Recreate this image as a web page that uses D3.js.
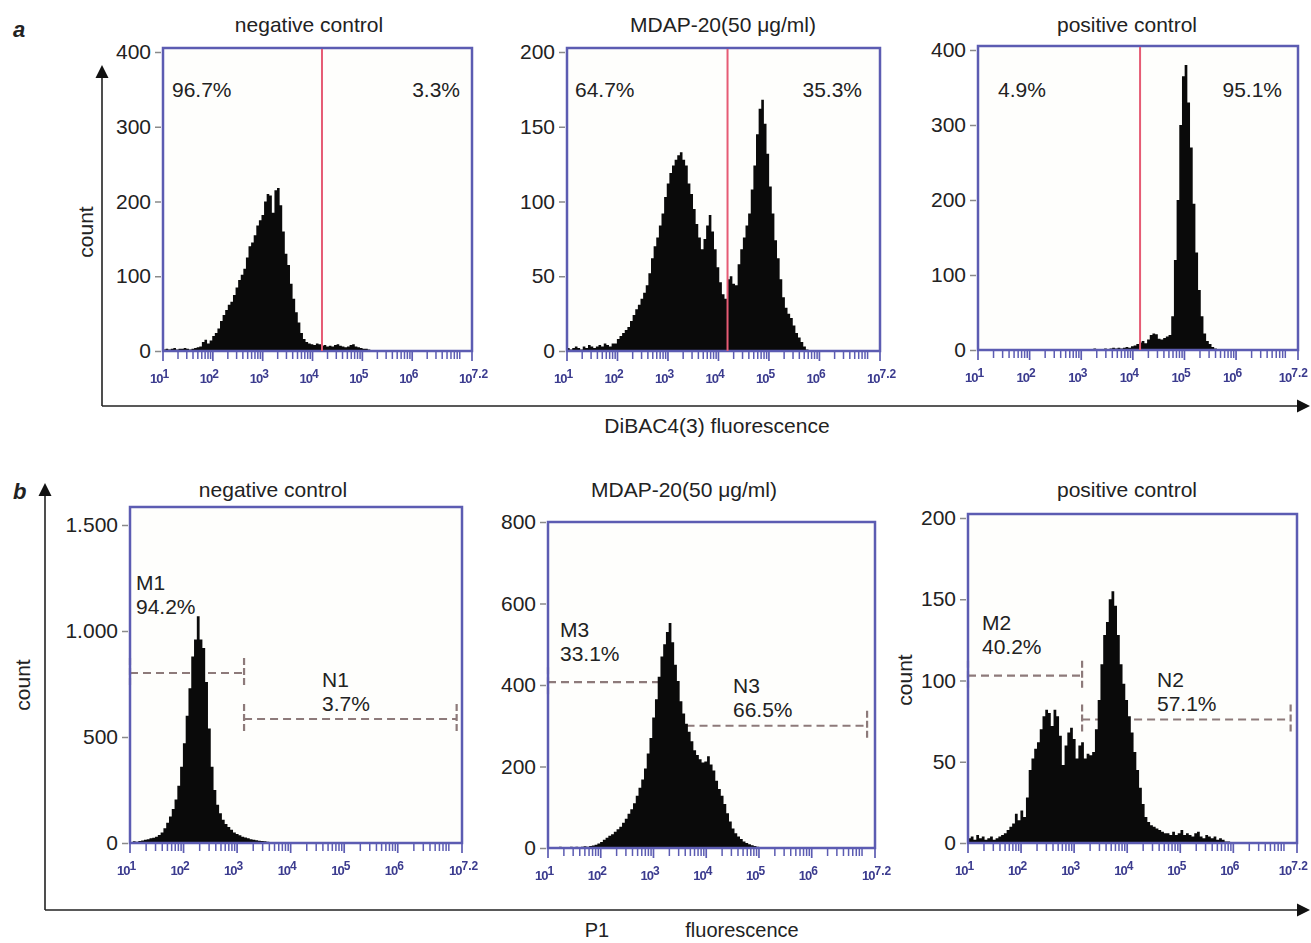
<!DOCTYPE html>
<html>
<head>
<meta charset="utf-8">
<script src="https://cdn.jsdelivr.net/npm/d3@7"></script>
<style>
  body { margin: 0; background: #fff; }
  svg { display: block; }
  text { font-family: "Liberation Sans", Arial, Helvetica, sans-serif; fill: #222; }
</style>
</head>
<body>
<svg id="fig" width="1311" height="943"></svg>
<script>
// ---------- data ----------
// histogram channel width, in decades of fluorescence
const BIN = 0.052;
const decadeTicks = [1, 2, 3, 4, 5, 6, 7.2];
const decadeLabels = ["1", "2", "3", "4", "5", "6", "7.2"];

const titles = ["negative control", "MDAP-20(50 μg/ml)", "positive control"];

// (a) DiBAC4(3) fluorescence histograms
const histStartA = [1.0, 1.0, 3.08];
const negACounts = [2,3,2,3,4,2,3,3,4,3,2,3,4,5,
  6,12,15,10,14,20,24,30,40,48,55,62,66,75,85,95,102,110,125,140,145,155,168,175,182,200,
  210,208,185,215,218,195,160,130,115,90,70,52,38,24,16,12,10,9,8,10,9,7,8,6,7,6,8,9,7,6,
  5,6,8,9,6,5,4,3,3,2];
const midACounts = [2,1,2,3,2,1,3,2,4,3,2,3,4,3,5,4,3,5,
  5,8,10,12,14,16,20,24,28,31,35,39,44,52,62,70,76,84,92,103,112,119,124,128,131,133,128,
  124,112,105,95,85,76,68,75,84,91,80,68,56,46,38,35,48,50,45,44,58,68,76,84,92,108,124,
  145,162,168,152,132,110,92,74,62,48,36,29,25,22,17,12,9,6,3,1];
const posACounts = [1,0,1,2,1,0,1,2,1,2,3,2,3,2,3,
  4,3,5,6,8,10,12,9,14,20,22,21,15,14,16,18,20,45,120,200,300,365,380,330,270,195,130,
  80,45,22,12,8,4,2,1];
const yMaxA = [400, 200, 400];
const yTicksA = [[0,100,200,300,400],[0,50,100,150,200],[0,100,200,300,400]];
const gateA = [4.19, 4.18, 4.14];
const pctLeftA = ["96.7%", "64.7%", "4.9%"];
const pctRightA = ["3.3%", "35.3%", "95.1%"];

// (b) PI fluorescence histograms
const histStartB = [1.0, 1.0, 1.0];
const negBCounts = [5,8,6,10,12,15,18,22,25,30,38,50,70,95,125,160,205,270,360,470,600,730,
  880,960,1070,960,920,760,540,360,250,180,140,110,90,75,62,50,42,36,30,26,22,18,15,13,11,
  10,8,6,4,3,2,2,1];
const midBCounts = [1,2,1,2,3,2,1,2,3,2,3,2,3,4,3,5,
  6,8,11,15,20,25,30,34,40,46,52,62,72,84,95,110,128,148,168,195,232,270,320,365,420,470,
  500,530,552,505,450,410,360,330,305,285,262,240,228,218,210,212,225,205,190,165,145,128,
  108,85,65,48,36,28,22,16,12,9,7,5,3,2,1];
const posBCounts = [3,4,2,5,3,4,2,3,4,2,3,4,5,6,8,10,12,18,14,20,16,28,45,52,58,62,70,78,82,
  80,72,82,78,66,48,60,68,71,64,52,60,62,52,55,54,56,70,88,110,128,136,150,155,146,128,110,
  98,88,78,68,56,45,34,24,16,13,11,10,9,8,7,6,6,5,7,5,6,8,5,6,5,4,6,7,4,3,5,4,3,4,2,3,2,1,1];
const yMaxB = [1500, 800, 200];
const yTicksB = [[0,500,1000,1500],[0,200,400,600,800],[0,50,100,150,200]];
const gateNamesB = [["M1","N1"], ["M3","N3"], ["M2","N2"]];
const gatePctB = [["94.2%","3.7%"], ["33.1%","66.5%"], ["40.2%","57.1%"]];
const gateSplitB = [3.13, 3.38, 3.15];
const gateEndB = [7.1, 7.05, 7.08];
const gateLevelM = [802, 407, 103];
const gateLevelN = [585, 300, 76];

// ---------- layout ----------
const W = 1311;
const frameA = [
  {x0:163, x1:472, top:48, zero:351, yTopPx:52, tx:309, lx:172, rx:460},
  {x0:567, x1:880, top:48, zero:351, yTopPx:52, tx:723, lx:575, rx:862},
  {x0:978, x1:1298, top:46, zero:350, yTopPx:50, tx:1127, lx:998, rx:1282}
];
const frameB = [
  {x0:130, x1:462, top:507, zero:843, yTopPx:525, tx:273, m:[136,590], n:[322,687]},
  {x0:548, x1:875, top:522, zero:848, yTopPx:522, tx:684, m:[560,637], n:[733,693]},
  {x0:968, x1:1297, top:514, zero:843, yTopPx:518, tx:1127, m:[982,630], n:[1157,687]}
];

const FRAME = "#5c5cb2";
const GATE = "#8d7a7a";
const RED = "#e65b74";

const svg = d3.select("#fig");
const defs = svg.append("defs");
defs.append("filter").attr("id", "soft")
  .append("feGaussianBlur").attr("stdDeviation", 0.7);

const fmt = d3.formatLocale({decimal: ",", thousands: ".", grouping: [3], currency: ["", ""]}).format(",d");

function drawPanel(f, counts, start, yMax, yTicks, title, titleY) {
  const g = svg.append("g");
  const x = d3.scaleLinear().domain([1, 7.2]).range([f.x0, f.x1]);
  const y = d3.scaleLinear().domain([0, yMax]).range([f.zero, f.yTopPx]);

  g.append("rect").attr("x", f.x0).attr("y", f.top)
    .attr("width", f.x1 - f.x0).attr("height", f.zero - f.top).attr("fill", "#fefefc");

  const layers = {
    under: g.append("g"),
    hist: g.append("g"),
    over: g.append("g")
  };

  // histogram as a step area
  const pts = counts.map((c, i) => ({l: start + i * BIN, c}));
  pts.push({l: start + counts.length * BIN, c: 0});
  const area = d3.area().curve(d3.curveStepAfter)
    .x(d => x(d.l)).y0(f.zero).y1(d => y(d.c));
  layers.hist.append("path").datum(pts).attr("d", area).attr("fill", "#0a0a0a");

  // frame
  layers.over.append("rect").attr("x", f.x0).attr("y", f.top)
    .attr("width", f.x1 - f.x0).attr("height", f.zero - f.top)
    .attr("fill", "none").attr("stroke", FRAME).attr("stroke-width", 2.5);

  // log axis: decade and minor ticks under the zero line
  const minor = [];
  for (let k = 1; k <= 7; k++) {
    for (let m = 2; m <= 9; m++) {
      const v = k + Math.log10(m);
      if (v < 7.2) minor.push(v);
    }
  }
  layers.over.selectAll(".mn").data(minor).join("line")
    .attr("x1", d => x(d)).attr("x2", d => x(d))
    .attr("y1", f.zero).attr("y2", f.zero + 8)
    .attr("stroke", FRAME).attr("stroke-width", 1.5);
  layers.over.selectAll(".mj").data(decadeTicks).join("line")
    .attr("x1", d => x(d)).attr("x2", d => x(d))
    .attr("y1", f.zero).attr("y2", f.zero + 10)
    .attr("stroke", FRAME).attr("stroke-width", 1.7);

  const lab = layers.over.append("g").attr("filter", "url(#soft)");
  decadeTicks.forEach((t, i) => {
    const tx = lab.append("text").attr("x", x(t) - 13).attr("y", f.zero + 32)
      .style("fill", "#3a3a8e").attr("font-size", 13).attr("font-weight", "bold");
    tx.append("tspan").attr("letter-spacing", -1).text("10");
    tx.append("tspan").attr("font-size", 12).attr("dy", -5).text(decadeLabels[i]);
    // keep the last label inside the page
    const w = tx.node().getComputedTextLength();
    const over = x(t) - 13 + w - (W - 3);
    if (over > 0) tx.attr("x", x(t) - 13 - over);
  });

  // count axis
  const ax = layers.over.append("g").attr("transform", `translate(${f.x0 - 2},0)`)
    .call(d3.axisLeft(y).tickValues(yTicks).tickFormat(fmt).tickSize(6).tickPadding(4));
  ax.select(".domain").remove();
  ax.selectAll(".tick line").attr("stroke", "#8a8a8a").attr("stroke-width", 1.5);
  ax.selectAll(".tick text").attr("font-size", 21)
    .attr("font-family", "'Liberation Sans', Arial, sans-serif").style("fill", "#222");

  svg.append("text").attr("x", f.tx).attr("y", titleY)
    .attr("text-anchor", "middle").attr("font-size", 21).text(title);

  return {x, y, layers};
}

// ---------- panel a ----------
const countsA = [negACounts, midACounts, posACounts];
frameA.forEach((f, i) => {
  const p = drawPanel(f, countsA[i], histStartA[i], yMaxA[i], yTicksA[i], titles[i], 32);
  p.layers.over.append("line")
    .attr("x1", p.x(gateA[i])).attr("x2", p.x(gateA[i]))
    .attr("y1", f.top + 1).attr("y2", f.zero)
    .attr("stroke", RED).attr("stroke-width", 2);
  p.layers.over.append("text").attr("x", f.lx).attr("y", 97)
    .attr("font-size", 21).text(pctLeftA[i]);
  p.layers.over.append("text").attr("x", f.rx).attr("y", 97)
    .attr("text-anchor", "end").attr("font-size", 21).text(pctRightA[i]);
});

// ---------- panel b ----------
const countsB = [negBCounts, midBCounts, posBCounts];
frameB.forEach((f, i) => {
  const p = drawPanel(f, countsB[i], histStartB[i], yMaxB[i], yTicksB[i], titles[i], 497);
  const gates = [
    {from: 1, to: gateSplitB[i], level: gateLevelM[i]},
    {from: gateSplitB[i], to: gateEndB[i], level: gateLevelN[i]}
  ];
  gates.forEach(gt => {
    const yy = p.y(gt.level);
    const gg = p.layers.under.append("g")
      .attr("stroke", GATE).attr("stroke-width", 2.2).attr("fill", "none");
    gg.append("line").attr("x1", p.x(gt.from)).attr("x2", p.x(gt.to))
      .attr("y1", yy).attr("y2", yy).attr("stroke-dasharray", "8,5");
    [gt.from, gt.to].forEach(e => {
      gg.append("line").attr("x1", p.x(e)).attr("x2", p.x(e))
        .attr("y1", yy - 15).attr("y2", yy + 15).attr("stroke-dasharray", "7,3");
    });
  });
  const names = gateNamesB[i], pcts = gatePctB[i];
  [[f.m, 0], [f.n, 1]].forEach(([pos, j]) => {
    p.layers.over.append("text").attr("x", pos[0]).attr("y", pos[1])
      .attr("font-size", 21).text(names[j]);
    p.layers.over.append("text").attr("x", pos[0]).attr("y", pos[1] + 24)
      .attr("font-size", 21).text(pcts[j]);
  });
});

// ---------- outer axes and labels ----------
function arrowAxes(ox, oy, topY, rightX) {
  const g = svg.append("g");
  g.append("line").attr("x1", ox).attr("x2", ox).attr("y1", topY + 10).attr("y2", oy)
    .attr("stroke", "#222").attr("stroke-width", 1.6);
  g.append("line").attr("x1", ox).attr("x2", rightX - 10).attr("y1", oy).attr("y2", oy)
    .attr("stroke", "#222").attr("stroke-width", 1.6);
  g.append("path").attr("d", `M${ox},${topY} L${ox - 6.5},${topY + 13} L${ox + 6.5},${topY + 13} Z`)
    .attr("fill", "#111");
  g.append("path").attr("d", `M${rightX},${oy} L${rightX - 13},${oy - 6.5} L${rightX - 13},${oy + 6.5} Z`)
    .attr("fill", "#111");
}
arrowAxes(102, 406, 65, 1310);
arrowAxes(45, 910, 483, 1310);

function vlabel(x, y, txt) {
  svg.append("text").attr("transform", `translate(${x},${y}) rotate(-90)`)
    .attr("text-anchor", "middle").attr("font-size", 21).text(txt);
}
vlabel(93, 232, "count");
vlabel(30, 685, "count");
vlabel(912, 680, "count");

svg.append("text").attr("x", 717).attr("y", 433).attr("text-anchor", "middle")
  .attr("font-size", 21).text("DiBAC4(3) fluorescence");
svg.append("text").attr("x", 597).attr("y", 937).attr("text-anchor", "middle")
  .attr("font-size", 20).text("P1");
svg.append("text").attr("x", 742).attr("y", 937).attr("text-anchor", "middle")
  .attr("font-size", 20).text("fluorescence");

svg.append("text").attr("x", 13).attr("y", 37).attr("font-size", 22)
  .attr("font-weight", "bold").attr("font-style", "italic").text("a");
svg.append("text").attr("x", 13).attr("y", 499).attr("font-size", 22)
  .attr("font-weight", "bold").attr("font-style", "italic").text("b");
</script>
</body>
</html>
